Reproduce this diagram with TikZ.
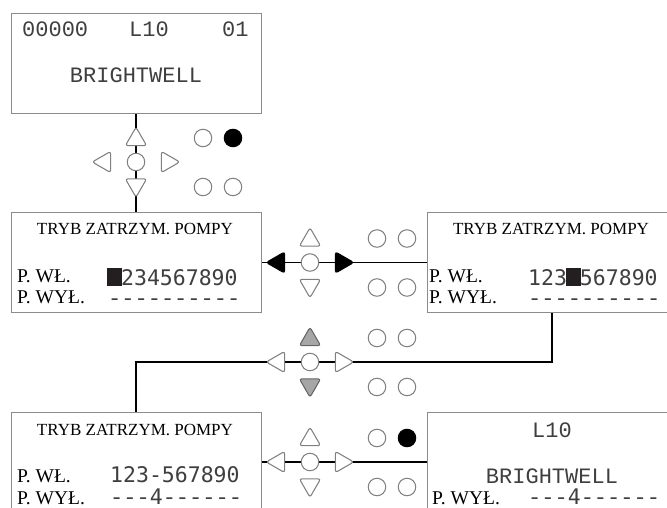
\documentclass[tikz,border=0pt]{standalone}
\usepackage{fontspec}
\setmainfont{Liberation Serif}
\newfontfamily\lcdfont[Ligatures=TeXOff]{Liberation Mono}
\newfontfamily\segfont{DejaVu Sans Mono}
\usetikzlibrary{shapes.geometric,backgrounds,calc}
\definecolor{RamkaGray}{HTML}{8C8C8C}
\definecolor{KlawGray}{HTML}{808080}
\definecolor{KlawFill}{HTML}{A6A6A6}
\definecolor{LcdText}{HTML}{3F3F3F}
\definecolor{KursorBlk}{HTML}{231F20}
\newcommand{\kursor}{\makebox[0.602em]{\textcolor{KursorBlk}{\rule[-0.03em]{0.72em}{0.8em}}}}
\newcommand{\kreski}[1]{{\lcdfont\fontsize{22}{24}\selectfont #1}}
\tikzset{
  ekran/.style   = {draw=RamkaGray, line width=0.9pt, minimum width=250pt,
                    minimum height=100pt, inner sep=0pt},
  tytul/.style   = {font=\fontsize{17}{19}\selectfont, inner sep=0pt, anchor=base},
  etyk/.style    = {font=\fontsize{19.5}{21}\selectfont, inner sep=0pt, anchor=base west},
  lcd/.style     = {font=\lcdfont\fontsize{22}{24}\selectfont, text=LcdText, inner sep=0pt},
  cyfry/.style   = {font=\segfont\fontsize{21.5}{24}\selectfont, text=LcdText,
                    inner sep=0pt, anchor=base west},
  klawisz/.style = {regular polygon, regular polygon sides=3, minimum size=24.5pt,
                    inner sep=0pt, rounded corners=2.5pt, draw=KlawGray,
                    line width=1.05pt, fill=white},
  bialy/.style   = {fill=white},
  czarny/.style  = {fill=black, draw=black},
  szary/.style   = {fill=KlawFill, draw=KlawGray!80!black},
  srodek/.style  = {circle, minimum size=17.5pt, inner sep=0pt, draw=KlawGray,
                    line width=1.05pt, fill=white},
  dioda/.style   = {srodek},
  diodaon/.style = {srodek, fill=black, draw=black},
  linia/.style   = {line width=1.6pt, black},
}
\begin{document}
\begin{tikzpicture}[x=1pt,y=-1pt]
  \useasboundingbox (0,0) rectangle (667,508);
  \clip (0,0) rectangle (667,508);
  % ekrany
  \node[ekran] (ek0) at (136,63) {};
  \node[ekran] (ek1) at (136,262.5) {};
  \node[ekran] (ek2) at (552,262.5) {};
  \node[ekran] (ek3) at (136,462) {};
  \node[ekran] (ek4) at (552,462) {};
  % ekran startowy
  \node[lcd, anchor=base west] (t0a) at (22,37) {00000};
  \node[lcd, anchor=base west] (t0b) at (129,37) {L10};
  \node[lcd, anchor=base west] (t0c) at (222,37) {01};
  \node[lcd, anchor=base] (t0d) at (136,83) {BRIGHTWELL};
  % tryb zatrzymania, kursor na 1
  \node[tytul] (t1a) at (135,234) {TRYB ZATRZYM. POMPY};
  \node[etyk] (t1b) at (17,282) {P. WŁ.};
  \node[etyk] (t1c) at (17,303) {P. WYŁ.};
  \node[cyfry] (t1d) at (108,285) {\kursor234567890};
  \node[cyfry] (t1e) at (108,305) {\kreski{----------}};
  % kursor na 4
  \node[tytul] (t2a) at (551,234) {TRYB ZATRZYM. POMPY};
  \node[etyk] (t2b) at (429,282) {P. WŁ.};
  \node[etyk] (t2c) at (429,303) {P. WYŁ.};
  \node[cyfry] (t2d) at (528,285) {123\kursor567890};
  \node[cyfry] (t2e) at (528,305) {\kreski{----------}};
  % 4 przeniesione na P. WYŁ.
  \node[tytul] (t3a) at (135,435) {TRYB ZATRZYM. POMPY};
  \node[etyk] (t3b) at (17,482) {P. WŁ.};
  \node[etyk] (t3c) at (17,504) {P. WYŁ.};
  \node[cyfry] (t3d) at (110,482) {123-567890};
  \node[cyfry] (t3e) at (110,504) {\kreski{---}4\kreski{------}};
  % powrot
  \node[lcd, anchor=base] (t4a) at (552,437) {L10};
  \node[lcd, anchor=base] (t4b) at (552,483) {BRIGHTWELL};
  \node[etyk] (t4c) at (432,504) {P. WYŁ.};
  \node[cyfry] (t4d) at (528,504) {\kreski{---}4\kreski{------}};
  % klawiatury
  \foreach \k/\x/\y/\fg/\fd/\fl/\fp/\dd in {
      1/136/162/bialy/bialy/bialy/bialy/diodaon,
      2/310/262.5/bialy/bialy/czarny/czarny/dioda,
      3/310/362/szary/szary/bialy/bialy/dioda,
      4/310/462/bialy/bialy/bialy/bialy/diodaon}{
    \node[srodek] (kc\k) at (\x,\y) {};
    \node[klawisz, \fg] (kg\k) at ($(kc\k)+(0,-22.5)$) {};
    \node[klawisz, shape border rotate=180, \fd] (kd\k) at ($(kc\k)+(0,23)$) {};
    \node[klawisz, shape border rotate=90, \fl] (kl\k) at ($(kc\k)+(-31.5,0)$) {};
    \node[klawisz, shape border rotate=-90, \fp] (kp\k) at ($(kc\k)+(31.5,0)$) {};
    \node[dioda] (d\k-1) at ($(kc\k)+(67,-24)$) {};
    \node[\dd] (d\k-2) at ($(kc\k)+(97,-24)$) {};
    \node[dioda] (d\k-3) at ($(kc\k)+(67,25)$) {};
    \node[dioda] (d\k-4) at ($(kc\k)+(97,25)$) {};
  }
  % polaczenia
  \begin{scope}[on background layer]
    \draw[linia] (ek0.south) -- (ek1.north);
    \draw[linia] (ek1.east) -- (ek2.west);
    \draw[linia] (ek2.south) |- (kc3.center) -| (ek3.north);
    \draw[linia] (ek3.east) -- (ek4.west);
  \end{scope}
\end{tikzpicture}
\end{document}
